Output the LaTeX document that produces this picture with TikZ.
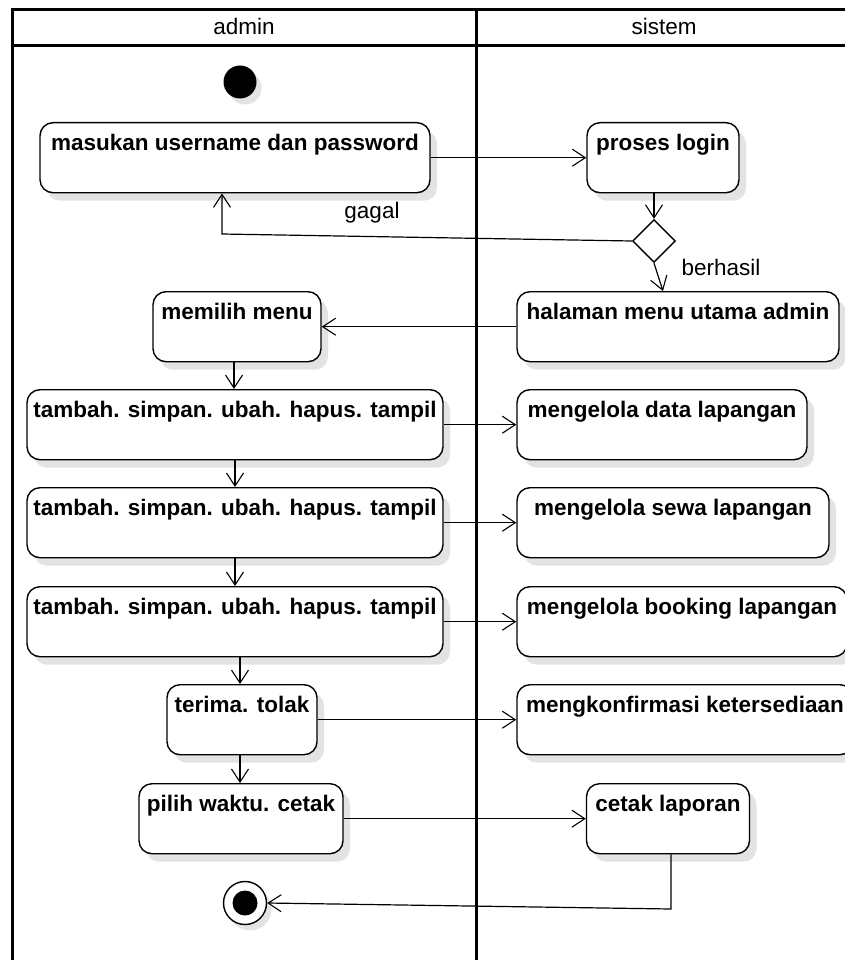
\documentclass[tikz,border=0pt]{standalone}
\usepackage{fontspec}
\setmainfont{Liberation Sans}
\usetikzlibrary{arrows.meta,shapes.geometric,shadows,calc}
\begin{document}
\begin{tikzpicture}[x=1pt,y=-1pt,
  txt/.style={font=\fontsize{22.5}{27}\selectfont, inner sep=0pt},
  act/.style={draw, line width=1.4pt, rounded corners=13pt, fill=white, anchor=north,
    minimum height=70pt, inner sep=0pt, text height=28pt, text depth=42pt,
    font=\bfseries\fontsize{22.5}{27}\selectfont,
    drop shadow={shadow xshift=7pt, shadow yshift=-8pt, fill=black!11, opacity=1}},
  flow/.style={line width=1.2pt, -{Straight Barb[length=13pt,width=17pt,line width=1.1pt]}},
  pool/.style={line width=3pt}]
\useasboundingbox (0,0) rectangle (845,960);
\clip (0,0) rectangle (845,960);
% swimlanes
\draw[pool] (12,962) -- (12,10) -- (870,10);
\draw[pool] (12,46) -- (870,46);
\draw[pool] (476,10) -- (476,962);
\node[txt, anchor=base] (hadmin) at (244,35) {admin};
\node[txt, anchor=base] (hsistem) at (664,35) {sistem};
% start
\node[circle, fill=black, minimum size=33pt, inner sep=0pt,
  drop shadow={shadow xshift=5pt, shadow yshift=-6pt, fill=black!11, opacity=1}] (start) at (240,82) {};
% activities
\node[act, minimum width=390pt] (masukan) at (235,122) {masukan username dan password};
\node[act, minimum width=152pt] (proses) at (663,122) {proses login};
\node[diamond, draw, fill=white, line width=1.4pt, minimum width=43pt, minimum height=43pt, inner sep=0pt] (dec) at (654,241) {};
\node[act, minimum width=168pt] (memilih) at (237,291) {memilih menu};
\node[act, minimum width=322pt] (halaman) at (678,291) {halaman menu utama admin};
\node[act, minimum width=416pt] (tambahA) at (235,389) {tambah. simpan. ubah. hapus. tampil};
\node[act, minimum width=290pt] (data) at (662,389) {mengelola data lapangan};
\node[act, minimum width=416pt] (tambahB) at (235,487) {tambah. simpan. ubah. hapus. tampil};
\node[act, minimum width=312pt] (sewa) at (673,487) {mengelola sewa lapangan};
\node[act, minimum width=416pt] (tambahC) at (235,586) {tambah. simpan. ubah. hapus. tampil};
\node[act, minimum width=330pt] (booking) at (682,586) {mengelola booking lapangan};
\node[act, minimum width=150pt] (terima) at (242,684) {terima. tolak};
\node[act, minimum width=336pt] (konfirm) at (685,684) {mengkonfirmasi ketersediaan};
\node[act, minimum width=204pt] (pilih) at (241,783) {pilih waktu. cetak};
\node[act, minimum width=163pt] (cetak) at (668,783) {cetak laporan};
% final
\node[circle, draw, fill=white, line width=1.4pt, minimum size=43pt, inner sep=0pt,
  drop shadow={shadow xshift=5pt, shadow yshift=-6pt, fill=black!11, opacity=1}] (final) at (245,903) {};
\node[circle, fill=black, minimum size=25pt, inner sep=0pt] (finalin) at (final.center) {};
% bends
\coordinate (gbend) at (222,234);
\coordinate (hin) at (663,291);
\coordinate (fbend) at (671,909);
% connectors
\draw[flow] (masukan.east) -- (proses.west);
\draw[flow] (proses.south -| dec.north) -- (dec.north);
\draw[flow] (dec.west) -- (gbend) -- (gbend |- masukan.south);
\node[txt, anchor=base] (lgagal) at (372,218) {gagal};
\draw[flow] (dec.south) -- (hin);
\node[txt, anchor=base] (lberhasil) at (721,275) {berhasil};
\draw[flow] (halaman.west) -- (memilih.east);
\draw[flow] ($(memilih.south -| tambahA.north)+(-1,0)$) -- ($(tambahA.north)+(-1,0)$);
\draw[flow] (tambahA.south) -- (tambahB.north);
\draw[flow] (tambahB.south) -- (tambahC.north);
\draw[flow] (tambahA.east) -- (data.west);
\draw[flow] (tambahB.east) -- (sewa.west);
\draw[flow] (tambahC.east) -- (booking.west);
\draw[flow] ($(tambahC.south -| terima.north)+(-2,0)$) -- ($(terima.north)+(-2,0)$);
\draw[flow] (terima.east) -- (konfirm.west);
\draw[flow] ($(terima.south)+(-2,0)$) -- ($(pilih.north -| terima.south)+(-2,0)$);
\draw[flow] (pilih.east) -- (cetak.west);
\draw[flow] (cetak.south -| fbend) -- (fbend) -- (final.east);
\end{tikzpicture}
\end{document}
